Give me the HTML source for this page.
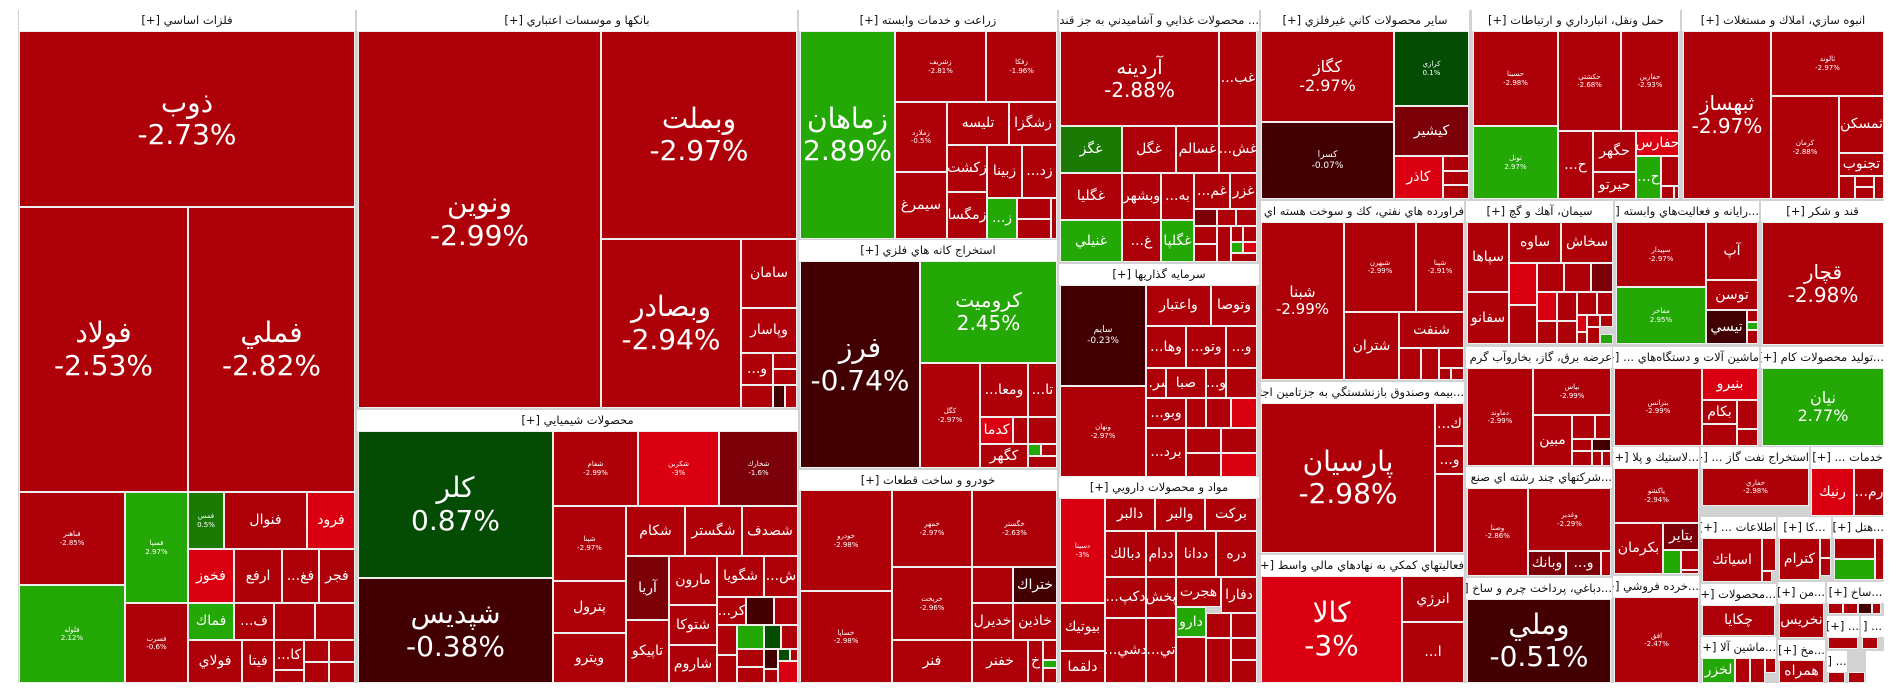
<!DOCTYPE html>
<html><head><meta charset="utf-8">
<style>
body{margin:0;width:1904px;height:698px;background:#fff;overflow:hidden;position:relative;font-family:"Liberation Sans","DejaVu Sans",sans-serif}
#m{position:absolute;left:18px;top:10px;width:1866px;height:673px;background:#d2d2d2}
.h{position:absolute;height:21px;background:#fff;font-size:11.5px;line-height:21px;color:#111;text-align:center;white-space:nowrap;overflow:hidden;font-family:"DejaVu Sans",sans-serif;direction:rtl}
.c{position:absolute;box-sizing:border-box;border:1px solid #eee;color:#fff;display:flex;align-items:center;justify-content:center;text-align:center;overflow:hidden;line-height:1.15;white-space:nowrap;font-family:"DejaVu Sans",sans-serif}
.r{background:#ae0009}.b{background:#db0011}.d{background:#7b0008}.k{background:#420003}.g{background:#23a805}.G{background:#044b04}.m{background:#1a7a04}
.L{font-size:28px}.X{font-size:20px}.M{font-size:14px}.S{font-size:7px}
</style></head><body>
<div id="m"></div>

<!-- G1 -->
<div class="h" style="left:19px;top:10px;width:336px">فلزات اساسي [+]</div>
<div class="c r L" style="left:19px;top:31px;width:336px;height:176px">ذوب<br>-2.73%</div>
<div class="c r L" style="left:19px;top:207px;width:169px;height:285px">فولاد<br>-2.53%</div>
<div class="c r L" style="left:188px;top:207px;width:167px;height:285px">فملي<br>-2.82%</div>
<div class="c r S" style="left:19px;top:492px;width:106px;height:93px">فباهنر<br>-2.85%</div>
<div class="c g S" style="left:19px;top:585px;width:106px;height:98px">فلوله<br>2.12%</div>
<div class="c g S" style="left:125px;top:492px;width:63px;height:111px">فسپا<br>2.97%</div>
<div class="c r S" style="left:125px;top:603px;width:63px;height:80px">فسرب<br>-0.6%</div>
<div class="c m S" style="left:188px;top:492px;width:36px;height:57px">فمس<br>0.5%</div>
<div class="c r M" style="left:224px;top:492px;width:83px;height:57px">فنوال</div>
<div class="c b M" style="left:307px;top:492px;width:48px;height:57px">فرود</div>
<div class="c b M" style="left:188px;top:549px;width:46px;height:54px">فخوز</div>
<div class="c r M" style="left:234px;top:549px;width:48px;height:54px">ارفع</div>
<div class="c r M" style="left:282px;top:549px;width:37px;height:54px">...فغ</div>
<div class="c r M" style="left:319px;top:549px;width:36px;height:54px">فجر</div>
<div class="c g M" style="left:188px;top:603px;width:46px;height:37px">فماك</div>
<div class="c r M" style="left:234px;top:603px;width:40px;height:37px">...ف</div>
<div class="c r" style="left:274px;top:603px;width:41px;height:37px"></div>
<div class="c r" style="left:315px;top:603px;width:40px;height:37px"></div>
<div class="c r M" style="left:188px;top:640px;width:54px;height:43px">فولاي</div>
<div class="c r M" style="left:242px;top:640px;width:32px;height:43px">فيتا</div>
<div class="c r M" style="left:274px;top:640px;width:30px;height:30px">...كا</div>
<div class="c r" style="left:274px;top:670px;width:30px;height:13px"></div>
<div class="c r" style="left:304px;top:640px;width:25px;height:22px"></div>
<div class="c r" style="left:329px;top:640px;width:26px;height:22px"></div>
<div class="c r" style="left:304px;top:662px;width:25px;height:21px"></div>
<div class="c r" style="left:329px;top:662px;width:26px;height:21px"></div>

<!-- G2 -->
<div class="h" style="left:357px;top:10px;width:440px">بانكها و موسسات اعتباري [+]</div>
<div class="c r L" style="left:358px;top:31px;width:243px;height:377px">ونوين<br>-2.99%</div>
<div class="c r L" style="left:601px;top:31px;width:196px;height:208px">وبملت<br>-2.97%</div>
<div class="c r L" style="left:601px;top:239px;width:140px;height:169px">وبصادر<br>-2.94%</div>
<div class="c r M" style="left:741px;top:239px;width:56px;height:69px">سامان</div>
<div class="c r M" style="left:741px;top:308px;width:56px;height:45px">وپاسار</div>
<div class="c r M" style="left:741px;top:353px;width:32px;height:32px">...و</div>
<div class="c r" style="left:773px;top:353px;width:24px;height:16px"></div>
<div class="c r" style="left:773px;top:369px;width:24px;height:16px"></div>
<div class="c r" style="left:741px;top:385px;width:32px;height:23px"></div>
<div class="c k" style="left:773px;top:385px;width:12px;height:23px"></div>
<div class="c r" style="left:785px;top:385px;width:12px;height:23px"></div>

<!-- G3 -->
<div class="h" style="left:357px;top:410px;width:441px">محصولات شيميايي [+]</div>
<div class="c G L" style="left:358px;top:431px;width:195px;height:147px">كلر<br>0.87%</div>
<div class="c k L" style="left:358px;top:578px;width:195px;height:105px">شپديس<br>-0.38%</div>
<div class="c r S" style="left:553px;top:431px;width:85px;height:75px">شفام<br>-2.99%</div>
<div class="c b S" style="left:638px;top:431px;width:81px;height:75px">شكربن<br>-3%</div>
<div class="c d S" style="left:719px;top:431px;width:79px;height:75px">شخارك<br>-1.6%</div>
<div class="c r S" style="left:553px;top:506px;width:73px;height:75px">شپنا<br>-2.97%</div>
<div class="c r M" style="left:626px;top:506px;width:59px;height:50px">شكام</div>
<div class="c r M" style="left:685px;top:506px;width:57px;height:50px">شگستر</div>
<div class="c r M" style="left:742px;top:506px;width:56px;height:50px">شصدف</div>
<div class="c r M" style="left:553px;top:581px;width:73px;height:52px">پترول</div>
<div class="c r M" style="left:553px;top:633px;width:73px;height:50px">ويترو</div>
<div class="c d M" style="left:626px;top:556px;width:43px;height:64px">آريا</div>
<div class="c r M" style="left:626px;top:620px;width:43px;height:63px">تاپيكو</div>
<div class="c r M" style="left:669px;top:556px;width:48px;height:49px">مارون</div>
<div class="c r M" style="left:669px;top:605px;width:48px;height:40px">شتوكا</div>
<div class="c r M" style="left:669px;top:645px;width:48px;height:38px">شاروم</div>
<div class="c r M" style="left:717px;top:556px;width:47px;height:41px">شگويا</div>
<div class="c r M" style="left:764px;top:556px;width:34px;height:41px">...ش</div>
<div class="c r M" style="left:717px;top:597px;width:29px;height:28px">...كر</div>
<div class="c k" style="left:746px;top:597px;width:28px;height:28px"></div>
<div class="c r" style="left:774px;top:597px;width:24px;height:28px"></div>
<div class="c r" style="left:717px;top:625px;width:20px;height:30px"></div>
<div class="c g" style="left:737px;top:625px;width:27px;height:24px"></div>
<div class="c G" style="left:764px;top:625px;width:17px;height:24px"></div>
<div class="c r" style="left:781px;top:625px;width:17px;height:24px"></div>
<div class="c r" style="left:717px;top:655px;width:20px;height:28px"></div>
<div class="c r" style="left:737px;top:649px;width:27px;height:18px"></div>
<div class="c r" style="left:737px;top:667px;width:27px;height:16px"></div>
<div class="c k" style="left:764px;top:649px;width:14px;height:20px"></div>
<div class="c G" style="left:778px;top:649px;width:12px;height:12px"></div>
<div class="c r" style="left:790px;top:649px;width:8px;height:12px"></div>
<div class="c r" style="left:764px;top:669px;width:14px;height:14px"></div>
<div class="c b" style="left:778px;top:661px;width:20px;height:22px"></div>

<!-- زراعت -->
<div class="h" style="left:799px;top:10px;width:258px">زراعت و خدمات وابسته [+]</div>
<div class="c g L" style="left:800px;top:31px;width:95px;height:208px">زماهان<br>2.89%</div>
<div class="c r S" style="left:895px;top:31px;width:91px;height:71px">زشريف<br>-2.81%</div>
<div class="c r S" style="left:986px;top:31px;width:71px;height:71px">زفكا<br>-1.96%</div>
<div class="c r S" style="left:895px;top:102px;width:52px;height:70px">زملارد<br>-0.5%</div>
<div class="c r M" style="left:947px;top:102px;width:62px;height:43px">تليسه</div>
<div class="c r M" style="left:1009px;top:102px;width:48px;height:43px">زشگزا</div>
<div class="c r M" style="left:947px;top:145px;width:40px;height:47px">زكشت</div>
<div class="c r M" style="left:987px;top:145px;width:35px;height:53px">زبينا</div>
<div class="c r M" style="left:1022px;top:145px;width:35px;height:53px">...زد</div>
<div class="c r M" style="left:895px;top:172px;width:52px;height:67px">سيمرغ</div>
<div class="c r M" style="left:947px;top:192px;width:40px;height:47px">زمگسا</div>
<div class="c g M" style="left:987px;top:198px;width:30px;height:41px">...ز</div>
<div class="c r" style="left:1017px;top:198px;width:34px;height:21px"></div>
<div class="c r" style="left:1017px;top:219px;width:34px;height:20px"></div>
<div class="c r" style="left:1051px;top:198px;width:6px;height:41px"></div>

<!-- استخراج كانه -->
<div class="h" style="left:799px;top:240px;width:258px">استخراج كانه هاي فلزي [+]</div>
<div class="c k L" style="left:800px;top:261px;width:120px;height:207px">فرز<br>-0.74%</div>
<div class="c g X" style="left:920px;top:261px;width:137px;height:102px">كروميت<br>2.45%</div>
<div class="c r S" style="left:920px;top:363px;width:60px;height:105px">كگل<br>-2.97%</div>
<div class="c r M" style="left:980px;top:363px;width:48px;height:54px">...ومعا</div>
<div class="c r M" style="left:1028px;top:363px;width:29px;height:54px">...تا</div>
<div class="c b M" style="left:980px;top:417px;width:33px;height:27px">كدما</div>
<div class="c r" style="left:1013px;top:417px;width:15px;height:27px"></div>
<div class="c r M" style="left:980px;top:444px;width:48px;height:24px">كگهر</div>
<div class="c r" style="left:1028px;top:417px;width:29px;height:27px"></div>
<div class="c g" style="left:1028px;top:444px;width:13px;height:12px"></div>
<div class="c r" style="left:1041px;top:444px;width:16px;height:12px"></div>
<div class="c r" style="left:1028px;top:456px;width:29px;height:12px"></div>

<!-- خودرو -->
<div class="h" style="left:799px;top:470px;width:258px">خودرو و ساخت قطعات [+]</div>
<div class="c r S" style="left:800px;top:490px;width:92px;height:101px">خودرو<br>-2.98%</div>
<div class="c r S" style="left:800px;top:591px;width:92px;height:92px">خساپا<br>-2.98%</div>
<div class="c r S" style="left:892px;top:490px;width:80px;height:77px">خمهر<br>-2.97%</div>
<div class="c r S" style="left:972px;top:490px;width:85px;height:77px">خگستر<br>-2.63%</div>
<div class="c r S" style="left:892px;top:567px;width:80px;height:73px">خريخت<br>-2.96%</div>
<div class="c r" style="left:972px;top:567px;width:41px;height:36px"></div>
<div class="c k M" style="left:1013px;top:567px;width:44px;height:36px">ختراك</div>
<div class="c r M" style="left:972px;top:603px;width:41px;height:37px">خديرل</div>
<div class="c r M" style="left:1013px;top:603px;width:44px;height:37px">خاذين</div>
<div class="c r M" style="left:892px;top:640px;width:80px;height:43px">فنر</div>
<div class="c r M" style="left:972px;top:640px;width:56px;height:43px">خفنر</div>
<div class="c r M" style="left:1028px;top:640px;width:15px;height:43px">خ</div>
<div class="c r" style="left:1043px;top:640px;width:14px;height:20px"></div>
<div class="c g" style="left:1043px;top:660px;width:14px;height:8px"></div>
<div class="c r" style="left:1043px;top:668px;width:14px;height:15px"></div>

<!-- غذايي -->
<div class="h" style="left:1059px;top:10px;width:200px">... محصولات غذايي و آشاميدني به جز قند [+]</div>
<div class="c r X" style="left:1060px;top:31px;width:159px;height:95px">آردينه<br>-2.88%</div>
<div class="c r M" style="left:1219px;top:31px;width:38px;height:95px">...غب</div>
<div class="c m M" style="left:1060px;top:126px;width:62px;height:47px">غگز</div>
<div class="c r M" style="left:1122px;top:126px;width:54px;height:47px">غگل</div>
<div class="c r M" style="left:1176px;top:126px;width:43px;height:47px">غسالم</div>
<div class="c r M" style="left:1219px;top:126px;width:38px;height:47px">...غش</div>
<div class="c r M" style="left:1060px;top:173px;width:62px;height:47px">غگليا</div>
<div class="c r M" style="left:1122px;top:173px;width:39px;height:47px">وبشهر</div>
<div class="c r M" style="left:1161px;top:173px;width:33px;height:47px">...به</div>
<div class="c r M" style="left:1194px;top:173px;width:36px;height:36px">...غم</div>
<div class="c r M" style="left:1230px;top:173px;width:27px;height:36px">غزر</div>
<div class="c g M" style="left:1060px;top:220px;width:62px;height:42px">غنيلي</div>
<div class="c r M" style="left:1122px;top:220px;width:39px;height:42px">...غ</div>
<div class="c g M" style="left:1161px;top:220px;width:33px;height:42px">غگلپا</div>
<div class="c d" style="left:1194px;top:209px;width:23px;height:17px"></div>
<div class="c r" style="left:1217px;top:209px;width:19px;height:17px"></div>
<div class="c r" style="left:1236px;top:209px;width:21px;height:17px"></div>
<div class="c r" style="left:1194px;top:226px;width:23px;height:18px"></div>
<div class="c r" style="left:1194px;top:244px;width:23px;height:18px"></div>
<div class="c r" style="left:1217px;top:226px;width:14px;height:36px"></div>
<div class="c r" style="left:1231px;top:226px;width:12px;height:16px"></div>
<div class="c r" style="left:1243px;top:226px;width:14px;height:16px"></div>
<div class="c g" style="left:1231px;top:242px;width:12px;height:11px"></div>
<div class="c b" style="left:1243px;top:242px;width:14px;height:11px"></div>
<div class="c r" style="left:1231px;top:253px;width:26px;height:9px"></div>

<!-- سرمايه -->
<div class="h" style="left:1059px;top:264px;width:200px">سرمايه گذاريها [+]</div>
<div class="c k S" style="left:1060px;top:285px;width:86px;height:101px;font-size:9px">سايم<br>-0.23%</div>
<div class="c r S" style="left:1060px;top:386px;width:86px;height:91px">ونهان<br>-2.97%</div>
<div class="c r M" style="left:1146px;top:285px;width:65px;height:41px">واعتبار</div>
<div class="c r M" style="left:1211px;top:285px;width:46px;height:41px">وتوصا</div>
<div class="c r M" style="left:1146px;top:326px;width:40px;height:42px">...وها</div>
<div class="c r M" style="left:1186px;top:326px;width:40px;height:42px">...وتو</div>
<div class="c r M" style="left:1226px;top:326px;width:31px;height:42px">...و</div>
<div class="c r M" style="left:1146px;top:368px;width:20px;height:30px">...سر</div>
<div class="c r M" style="left:1166px;top:368px;width:40px;height:30px">صبا</div>
<div class="c r M" style="left:1206px;top:368px;width:20px;height:30px">...و</div>
<div class="c r" style="left:1226px;top:368px;width:31px;height:30px"></div>
<div class="c r M" style="left:1146px;top:398px;width:40px;height:30px">...وبو</div>
<div class="c r" style="left:1186px;top:398px;width:20px;height:30px"></div>
<div class="c r" style="left:1206px;top:398px;width:25px;height:30px"></div>
<div class="c b" style="left:1231px;top:398px;width:26px;height:30px"></div>
<div class="c r M" style="left:1146px;top:428px;width:40px;height:49px">...برد</div>
<div class="c r" style="left:1186px;top:428px;width:35px;height:25px"></div>
<div class="c r" style="left:1221px;top:428px;width:36px;height:25px"></div>
<div class="c r" style="left:1186px;top:453px;width:35px;height:24px"></div>
<div class="c b" style="left:1221px;top:453px;width:36px;height:24px"></div>

<!-- دارويي -->
<div class="h" style="left:1059px;top:477px;width:200px">مواد و محصولات دارويي [+]</div>
<div class="c b S" style="left:1060px;top:498px;width:45px;height:105px">دسينا<br>-3%</div>
<div class="c r M" style="left:1060px;top:603px;width:45px;height:48px">بيوتيك</div>
<div class="c r M" style="left:1060px;top:651px;width:45px;height:32px">دلقما</div>
<div class="c r M" style="left:1105px;top:498px;width:50px;height:33px">دالبر</div>
<div class="c r M" style="left:1155px;top:498px;width:50px;height:33px">والبر</div>
<div class="c r M" style="left:1205px;top:498px;width:52px;height:33px">بركت</div>
<div class="c r M" style="left:1105px;top:531px;width:41px;height:46px">دبالك</div>
<div class="c r M" style="left:1146px;top:531px;width:30px;height:46px">ددام</div>
<div class="c r M" style="left:1176px;top:531px;width:40px;height:46px">ددانا</div>
<div class="c r M" style="left:1216px;top:531px;width:41px;height:46px">دره</div>
<div class="c r M" style="left:1105px;top:577px;width:41px;height:41px">...دكپ</div>
<div class="c r M" style="left:1146px;top:577px;width:30px;height:41px">پخش</div>
<div class="c r M" style="left:1176px;top:577px;width:45px;height:30px">هجرت</div>
<div class="c r M" style="left:1221px;top:577px;width:36px;height:36px">دفارا</div>
<div class="c g M" style="left:1176px;top:607px;width:30px;height:30px">دارو</div>
<div class="c r" style="left:1206px;top:613px;width:25px;height:25px"></div>
<div class="c r" style="left:1231px;top:613px;width:26px;height:25px"></div>
<div class="c r M" style="left:1105px;top:618px;width:41px;height:65px">...دشي</div>
<div class="c r M" style="left:1146px;top:618px;width:30px;height:65px">...تي</div>
<div class="c r" style="left:1176px;top:637px;width:30px;height:46px"></div>
<div class="c r" style="left:1206px;top:638px;width:25px;height:45px"></div>
<div class="c r" style="left:1231px;top:638px;width:26px;height:22px"></div>
<div class="c r" style="left:1231px;top:660px;width:26px;height:23px"></div>

<!-- كاني -->
<div class="h" style="left:1261px;top:10px;width:208px">ساير محصولات كاني غيرفلزي [+]</div>
<div class="c r X" style="left:1261px;top:31px;width:133px;height:91px;font-size:16px">كگاز<br>-2.97%</div>
<div class="c k S" style="left:1261px;top:122px;width:133px;height:77px;font-size:9px">كسرا<br>-0.07%</div>
<div class="c G S" style="left:1394px;top:31px;width:75px;height:75px">كرازي<br>0.1%</div>
<div class="c d M" style="left:1394px;top:106px;width:75px;height:50px">كيشير</div>
<div class="c b M" style="left:1394px;top:156px;width:49px;height:43px">كاذر</div>
<div class="c r" style="left:1443px;top:156px;width:26px;height:15px"></div>
<div class="c r" style="left:1443px;top:171px;width:26px;height:14px"></div>
<div class="c r" style="left:1443px;top:185px;width:26px;height:14px"></div>

<!-- فراورده -->
<div class="h" style="left:1261px;top:201px;width:203px">فراورده هاي نفتي، كك و سوخت هسته اي [+]</div>
<div class="c r X" style="left:1261px;top:222px;width:83px;height:158px;font-size:15px">شبنا<br>-2.99%</div>
<div class="c r S" style="left:1344px;top:222px;width:72px;height:90px">شبهرن<br>-2.99%</div>
<div class="c r S" style="left:1416px;top:222px;width:48px;height:90px">شپنا<br>-2.91%</div>
<div class="c r M" style="left:1344px;top:312px;width:55px;height:68px">شتران</div>
<div class="c r M" style="left:1399px;top:312px;width:65px;height:36px">شنفت</div>
<div class="c r" style="left:1399px;top:348px;width:22px;height:32px"></div>
<div class="c r" style="left:1421px;top:348px;width:18px;height:32px"></div>
<div class="c r" style="left:1439px;top:348px;width:25px;height:20px"></div>
<div class="c r" style="left:1439px;top:368px;width:12px;height:12px"></div>
<div class="c r" style="left:1451px;top:368px;width:13px;height:12px"></div>

<!-- بيمه -->
<div class="h" style="left:1261px;top:382px;width:203px">...بيمه وصندوق بازنشستگي به جزتامين اجتم [+]</div>
<div class="c r L" style="left:1261px;top:403px;width:174px;height:150px">پارسيان<br>-2.98%</div>
<div class="c r M" style="left:1435px;top:403px;width:29px;height:43px">...ك</div>
<div class="c r M" style="left:1435px;top:446px;width:29px;height:28px">...و</div>
<div class="c r" style="left:1435px;top:474px;width:29px;height:79px"></div>

<!-- كمكي -->
<div class="h" style="left:1261px;top:555px;width:203px">فعاليتهاي كمكي به نهادهاي مالي واسط [+]</div>
<div class="c b L" style="left:1261px;top:576px;width:141px;height:107px">كالا<br>-3%</div>
<div class="c r M" style="left:1402px;top:576px;width:62px;height:46px">انرژي</div>
<div class="c r M" style="left:1402px;top:622px;width:62px;height:61px">...ا</div>

<!-- حمل -->
<div class="h" style="left:1472px;top:10px;width:208px">حمل ونقل، انبارداري و ارتباطات [+]</div>
<div class="c r S" style="left:1473px;top:31px;width:85px;height:95px">حسينا<br>-2.98%</div>
<div class="c g S" style="left:1473px;top:126px;width:85px;height:73px">تونل<br>2.97%</div>
<div class="c r S" style="left:1558px;top:31px;width:63px;height:100px">حكشتي<br>-2.68%</div>
<div class="c r S" style="left:1621px;top:31px;width:58px;height:100px">حفارين<br>-2.93%</div>
<div class="c r M" style="left:1558px;top:131px;width:35px;height:68px">...ح</div>
<div class="c r M" style="left:1593px;top:131px;width:43px;height:41px">حگهر</div>
<div class="c b M" style="left:1636px;top:131px;width:43px;height:25px">حفارس</div>
<div class="c r M" style="left:1593px;top:172px;width:43px;height:27px">حيرتو</div>
<div class="c g M" style="left:1636px;top:156px;width:25px;height:43px">...ح</div>
<div class="c r" style="left:1661px;top:156px;width:18px;height:30px"></div>
<div class="c r" style="left:1661px;top:186px;width:13px;height:13px"></div>
<div class="c r" style="left:1674px;top:186px;width:5px;height:13px"></div>

<!-- انبوه -->
<div class="h" style="left:1682px;top:10px;width:202px">انبوه سازي، املاك و مستغلات [+]</div>
<div class="c r X" style="left:1683px;top:31px;width:88px;height:168px">ثبهساز<br>-2.97%</div>
<div class="c r S" style="left:1771px;top:31px;width:113px;height:65px">ثالوند<br>-2.97%</div>
<div class="c r S" style="left:1771px;top:96px;width:68px;height:103px">كرمان<br>-2.88%</div>
<div class="c r M" style="left:1839px;top:96px;width:45px;height:57px">ثمسكن</div>
<div class="c r M" style="left:1839px;top:153px;width:45px;height:23px">تجنوب</div>
<div class="c r" style="left:1839px;top:176px;width:16px;height:23px"></div>
<div class="c r" style="left:1855px;top:176px;width:19px;height:11px"></div>
<div class="c r" style="left:1855px;top:187px;width:19px;height:12px"></div>
<div class="c r" style="left:1874px;top:176px;width:10px;height:23px"></div>

<!-- سيمان -->
<div class="h" style="left:1466px;top:201px;width:147px">سيمان، آهك و گچ [+]</div>
<div class="c r M" style="left:1467px;top:222px;width:42px;height:70px">سپاها</div>
<div class="c r M" style="left:1509px;top:222px;width:52px;height:41px">ساوه</div>
<div class="c r M" style="left:1561px;top:222px;width:52px;height:41px">سخاش</div>
<div class="c r M" style="left:1467px;top:292px;width:42px;height:52px">سفانو</div>
<div class="c b" style="left:1509px;top:263px;width:28px;height:42px"></div>
<div class="c r" style="left:1509px;top:305px;width:28px;height:39px"></div>
<div class="c r" style="left:1537px;top:263px;width:27px;height:29px"></div>
<div class="c r" style="left:1564px;top:263px;width:27px;height:29px"></div>
<div class="c d" style="left:1591px;top:263px;width:22px;height:29px"></div>
<div class="c b" style="left:1537px;top:292px;width:20px;height:29px"></div>
<div class="c r" style="left:1557px;top:292px;width:20px;height:29px"></div>
<div class="c r" style="left:1577px;top:292px;width:20px;height:23px"></div>
<div class="c r" style="left:1597px;top:292px;width:16px;height:23px"></div>
<div class="c r" style="left:1537px;top:321px;width:20px;height:23px"></div>
<div class="c r" style="left:1557px;top:321px;width:20px;height:23px"></div>
<div class="c b" style="left:1577px;top:315px;width:10px;height:17px"></div>
<div class="c r" style="left:1587px;top:315px;width:13px;height:12px"></div>
<div class="c r" style="left:1600px;top:315px;width:13px;height:12px"></div>
<div class="c r" style="left:1587px;top:327px;width:13px;height:17px"></div>
<div class="c g" style="left:1600px;top:334px;width:13px;height:10px"></div>
<div class="c r" style="left:1577px;top:332px;width:10px;height:12px"></div>

<!-- رايانه -->
<div class="h" style="left:1615px;top:201px;width:144px">...رايانه و فعاليت‌هاي وابسته [+]</div>
<div class="c r S" style="left:1616px;top:222px;width:90px;height:65px">سپيدار<br>-2.97%</div>
<div class="c r M" style="left:1706px;top:222px;width:52px;height:58px">آپ</div>
<div class="c g S" style="left:1616px;top:287px;width:90px;height:57px">مفاخر<br>2.95%</div>
<div class="c r M" style="left:1706px;top:280px;width:52px;height:30px">توسن</div>
<div class="c k M" style="left:1706px;top:310px;width:41px;height:34px">تيسي</div>
<div class="c r" style="left:1747px;top:310px;width:11px;height:12px"></div>
<div class="c g" style="left:1747px;top:322px;width:11px;height:8px"></div>
<div class="c r" style="left:1747px;top:330px;width:11px;height:14px"></div>

<!-- قند -->
<div class="h" style="left:1761px;top:201px;width:123px">قند و شكر [+]</div>
<div class="c r X" style="left:1762px;top:222px;width:122px;height:123px">قچار<br>-2.98%</div>

<!-- عرضه برق -->
<div class="h" style="left:1466px;top:347px;width:146px">عرضه برق، گاز، بخاروآب گرم [+]</div>
<div class="c r S" style="left:1467px;top:368px;width:66px;height:98px">دماوند<br>-2.99%</div>
<div class="c r S" style="left:1533px;top:368px;width:78px;height:47px">بپاس<br>-2.99%</div>
<div class="c r M" style="left:1533px;top:415px;width:39px;height:51px">مبين</div>
<div class="c r" style="left:1572px;top:415px;width:23px;height:24px"></div>
<div class="c r" style="left:1595px;top:415px;width:16px;height:24px"></div>
<div class="c r" style="left:1572px;top:439px;width:20px;height:12px"></div>
<div class="c k" style="left:1592px;top:439px;width:19px;height:12px"></div>
<div class="c r" style="left:1572px;top:451px;width:20px;height:15px"></div>
<div class="c r" style="left:1592px;top:451px;width:10px;height:15px"></div>
<div class="c r" style="left:1602px;top:451px;width:9px;height:15px"></div>

<!-- ماشين آلات -->
<div class="h" style="left:1613px;top:347px;width:146px">ماشين آلات و دستگاه‌هاي ... [+]</div>
<div class="c r S" style="left:1614px;top:368px;width:88px;height:78px">بترانس<br>-2.99%</div>
<div class="c b M" style="left:1702px;top:368px;width:56px;height:32px">بنيرو</div>
<div class="c r M" style="left:1702px;top:400px;width:35px;height:24px">بكام</div>
<div class="c r" style="left:1737px;top:400px;width:21px;height:29px"></div>
<div class="c r" style="left:1702px;top:424px;width:35px;height:22px"></div>
<div class="c r" style="left:1737px;top:429px;width:21px;height:17px"></div>

<!-- توليد كام -->
<div class="h" style="left:1761px;top:347px;width:123px">...توليد محصولات كام [+]</div>
<div class="c g X" style="left:1762px;top:368px;width:122px;height:78px;font-size:16px">نيان<br>2.77%</div>

<!-- شركتهاي -->
<div class="h" style="left:1466px;top:467px;width:146px">...شركتهاي چند رشته اي صنع [+]</div>
<div class="c r S" style="left:1467px;top:488px;width:61px;height:88px">وصنا<br>-2.86%</div>
<div class="c r S" style="left:1528px;top:488px;width:83px;height:63px">وغدير<br>-2.29%</div>
<div class="c d M" style="left:1528px;top:551px;width:38px;height:25px">وبانك</div>
<div class="c d M" style="left:1566px;top:551px;width:35px;height:25px">...و</div>
<div class="c r" style="left:1601px;top:551px;width:10px;height:25px"></div>

<!-- دباغي -->
<div class="h" style="left:1466px;top:578px;width:146px">...دباغي، پرداخت چرم و ساخ [+]</div>
<div class="c k L" style="left:1467px;top:599px;width:144px;height:84px">وملي<br>-0.51%</div>

<!-- لاستيك -->
<div class="h" style="left:1613px;top:447px;width:86px">...لاستيك و پلا [+]</div>
<div class="c r S" style="left:1614px;top:468px;width:85px;height:55px">پاكشو<br>-2.94%</div>
<div class="c r M" style="left:1614px;top:523px;width:49px;height:51px">بكرمان</div>
<div class="c d M" style="left:1663px;top:523px;width:36px;height:27px">بتاير</div>
<div class="c g" style="left:1663px;top:550px;width:18px;height:24px"></div>
<div class="c r" style="left:1681px;top:550px;width:18px;height:20px"></div>
<div class="c r" style="left:1681px;top:570px;width:18px;height:4px"></div>

<!-- خرده -->
<div class="h" style="left:1613px;top:576px;width:86px">...خرده فروشي [+]</div>
<div class="c r S" style="left:1614px;top:597px;width:85px;height:86px">افق<br>-2.47%</div>

<!-- نفت -->
<div class="h" style="left:1701px;top:447px;width:108px">استخراج نفت گاز ... [+]</div>
<div class="c r S" style="left:1702px;top:468px;width:107px;height:38px">حفاري<br>-2.98%</div>

<!-- خدمات -->
<div class="h" style="left:1811px;top:447px;width:73px">خدمات ... [+]</div>
<div class="c b M" style="left:1811px;top:468px;width:43px;height:48px">رنيك</div>
<div class="c r M" style="left:1854px;top:468px;width:30px;height:48px">...رم</div>

<!-- اطلاعات -->
<div class="h" style="left:1701px;top:517px;width:75px">اطلاعات ... [+]</div>
<div class="c r M" style="left:1702px;top:538px;width:60px;height:44px">اسياتك</div>
<div class="c r" style="left:1762px;top:538px;width:14px;height:33px"></div>
<div class="c r" style="left:1762px;top:571px;width:10px;height:11px"></div>

<!-- كا -->
<div class="h" style="left:1778px;top:517px;width:53px">...كا [+]</div>
<div class="c r M" style="left:1779px;top:538px;width:41px;height:42px">كترام</div>
<div class="c r" style="left:1820px;top:538px;width:11px;height:20px"></div>
<div class="c r" style="left:1820px;top:558px;width:11px;height:18px"></div>

<!-- هتل -->
<div class="h" style="left:1833px;top:517px;width:51px">...هتل [+]</div>
<div class="c r" style="left:1834px;top:538px;width:41px;height:21px"></div>
<div class="c g" style="left:1834px;top:559px;width:41px;height:21px"></div>
<div class="c r" style="left:1875px;top:538px;width:9px;height:42px"></div>

<!-- محصولات -->
<div class="h" style="left:1701px;top:584px;width:75px">...محصولات [+]</div>
<div class="c r M" style="left:1702px;top:605px;width:73px;height:31px">چكايا</div>

<!-- ماشين آلا -->
<div class="h" style="left:1701px;top:637px;width:75px">...ماشين آلا [+]</div>
<div class="c g M" style="left:1702px;top:658px;width:33px;height:25px">لخزر</div>
<div class="c r" style="left:1735px;top:658px;width:15px;height:25px"></div>
<div class="c r" style="left:1750px;top:658px;width:15px;height:25px"></div>
<div class="c r" style="left:1765px;top:658px;width:11px;height:15px"></div>

<!-- من / مخ -->
<div class="h" style="left:1778px;top:582px;width:47px">...من [+]</div>
<div class="c r M" style="left:1779px;top:603px;width:45px;height:35px">نخريس</div>
<div class="h" style="left:1778px;top:640px;width:47px">...مخ [+]</div>
<div class="c r M" style="left:1779px;top:660px;width:45px;height:23px">همراه</div>

<!-- ساخ etc -->
<div class="h" style="left:1827px;top:582px;width:57px">...ساخ [+]</div>
<div class="c r" style="left:1828px;top:603px;width:15px;height:11px"></div>
<div class="c r" style="left:1843px;top:603px;width:15px;height:11px"></div>
<div class="c k" style="left:1858px;top:603px;width:14px;height:11px"></div>
<div class="c r" style="left:1872px;top:603px;width:9px;height:11px"></div>
<div class="h" style="left:1827px;top:616px;width:32px">... [+]</div>
<div class="c r" style="left:1828px;top:637px;width:30px;height:12px"></div>
<div class="h" style="left:1861px;top:616px;width:23px">... [</div>
<div class="c r" style="left:1862px;top:637px;width:16px;height:12px"></div>
<div class="h" style="left:1827px;top:651px;width:20px">... [</div>
<div class="c r" style="left:1828px;top:672px;width:17px;height:11px"></div>
<div class="c r" style="left:1848px;top:672px;width:17px;height:11px"></div>
<div class="h" style="left:1866px;top:651px;width:18px;height:32px"></div>
</body></html>
